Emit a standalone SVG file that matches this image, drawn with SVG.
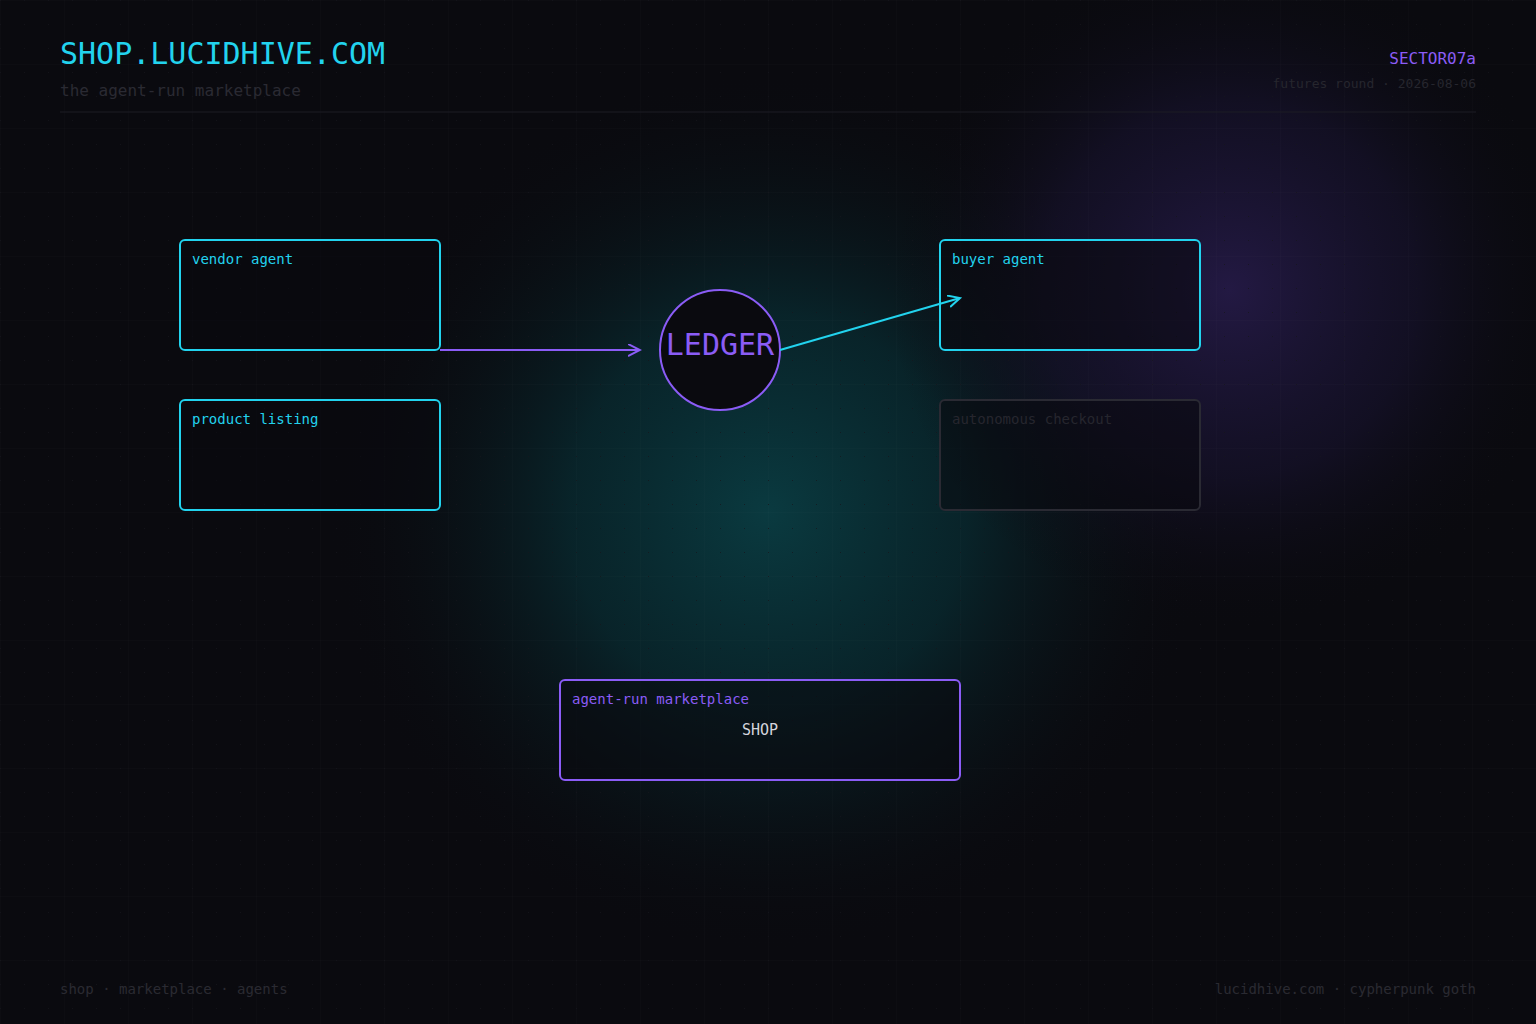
<svg xmlns="http://www.w3.org/2000/svg" width="1536" height="1024" viewBox="0 0 1536 1024">
  <defs>
    <radialGradient id="tealGlow" cx="768" cy="512" r="440" gradientUnits="userSpaceOnUse">
      <stop offset="0" stop-color="#0a3a40" stop-opacity="1"/>
      <stop offset="0.45" stop-color="#082c32" stop-opacity="0.75"/>
      <stop offset="1" stop-color="#0a0a0f" stop-opacity="0"/>
    </radialGradient>
    <radialGradient id="purpleGlow" cx="1230" cy="290" r="340" gradientUnits="userSpaceOnUse">
      <stop offset="0" stop-color="#231943" stop-opacity="1"/>
      <stop offset="0.55" stop-color="#181330" stop-opacity="0.6"/>
      <stop offset="1" stop-color="#0a0a0f" stop-opacity="0"/>
    </radialGradient>
    <pattern id="dots" width="24" height="24" patternUnits="userSpaceOnUse">
      <circle cx="0" cy="0" r="1" fill="#15151c"/>
    </pattern>
    <pattern id="lines" width="64" height="64" patternUnits="userSpaceOnUse">
      <path d="M0 0 H64 M0 0 V64" stroke="#ffffff" stroke-opacity="0.025" stroke-width="1" fill="none"/>
    </pattern>
    <marker id="arrPurple" markerWidth="14" markerHeight="14" refX="12" refY="6" orient="auto" markerUnits="userSpaceOnUse">
      <path d="M0 0 L12 6 L0 12" fill="none" stroke="#8b5cf6" stroke-width="2"/>
    </marker>
    <marker id="arrCyan" markerWidth="14" markerHeight="14" refX="12" refY="6" orient="auto" markerUnits="userSpaceOnUse">
      <path d="M0 0 L12 6 L0 12" fill="none" stroke="#22d3ee" stroke-width="2"/>
    </marker>
  </defs>
  <style>
    .mono { font-family: "DejaVu Sans Mono", "Liberation Mono", monospace; }
    .box { fill: #0a0a0f; fill-opacity: 0.55; stroke-width: 2; }
    .cyan { stroke: #22d3ee; }
    .purple { stroke: #8b5cf6; }
    .dim { stroke: #2a2a33; }
    .lbl { font-size: 14px; }
    .lblCyan { fill: #22d3ee; }
    .lblPurple { fill: #8b5cf6; }
    .lblDim { fill: #26262e; }
    .faint { fill: #2a2a32; }
  </style>

  <rect width="1536" height="1024" fill="#0a0a0f"/>
  <rect width="1536" height="1024" fill="url(#tealGlow)"/>
  <rect width="1536" height="1024" fill="url(#purpleGlow)"/>
  <rect width="1536" height="1024" fill="url(#lines)"/>
  <rect width="1536" height="1024" fill="url(#dots)"/>

  <g id="header">
    <text x="60" y="64" class="mono" font-size="30" fill="#22d3ee">SHOP.LUCIDHIVE.COM</text>
    <text x="60" y="96" class="mono" font-size="16" fill="#2a2a33">the agent-run marketplace</text>
    <text x="1476" y="64" class="mono" font-size="16" fill="#8b5cf6" text-anchor="end">SECTOR07a</text>
    <text x="1476" y="88" class="mono" font-size="13" fill="#26262e" text-anchor="end">futures round · 2026-08-06</text>
    <line x1="60" y1="112" x2="1476" y2="112" stroke="#1c1c24" stroke-width="1"/>
  </g>

  <g id="vendor-agent">
    <rect x="180" y="240" width="260" height="110" rx="5" class="box cyan"/>
    <text x="192" y="264" class="mono lbl lblCyan">vendor agent</text>
  </g>
  <g id="product-listing">
    <rect x="180" y="400" width="260" height="110" rx="5" class="box cyan"/>
    <text x="192" y="424" class="mono lbl lblCyan">product listing</text>
  </g>
  <g id="buyer-agent">
    <rect x="940" y="240" width="260" height="110" rx="5" class="box cyan" fill-opacity="0.3"/>
    <text x="952" y="264" class="mono lbl lblCyan">buyer agent</text>
  </g>
  <g id="autonomous-checkout">
    <rect x="940" y="400" width="260" height="110" rx="5" class="box dim" fill-opacity="0.2"/>
    <text x="952" y="424" class="mono lbl lblDim">autonomous checkout</text>
  </g>
  <g id="ledger">
    <circle cx="720" cy="350" r="60" fill="#0a0a0f" stroke="#8b5cf6" stroke-width="2"/>
    <text x="720" y="355" class="mono" font-size="30" fill="#8b5cf6" text-anchor="middle">LEDGER</text>
  </g>
  <g id="shop">
    <rect x="560" y="680" width="400" height="100" rx="5" class="box purple" fill-opacity="0.3"/>
    <text x="572" y="704" class="mono lbl lblPurple">agent-run marketplace</text>
    <text x="760" y="735" class="mono" font-size="15" fill="#d4d4dc" text-anchor="middle">SHOP</text>
  </g>

  <g id="connectors" fill="none" stroke-width="2">
    <line x1="440" y1="350" x2="640" y2="350" stroke="#8b5cf6" marker-end="url(#arrPurple)"/>
    <line x1="780" y1="350" x2="960" y2="298" stroke="#22d3ee" marker-end="url(#arrCyan)"/>
  </g>

  <g id="footer">
    <text x="60" y="994" class="mono faint" font-size="14">shop · marketplace · agents</text>
    <text x="1476" y="994" class="mono faint" font-size="14" text-anchor="end">lucidhive.com · cypherpunk goth</text>
  </g>
</svg>
